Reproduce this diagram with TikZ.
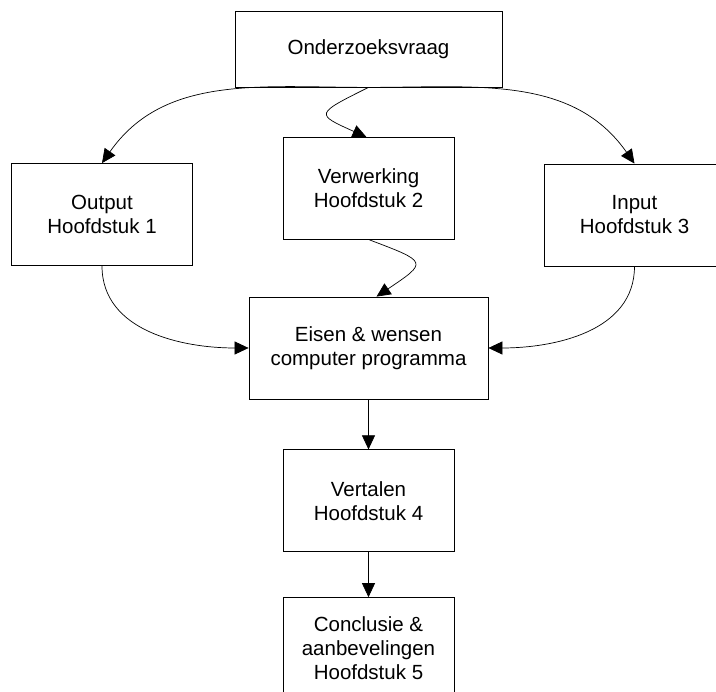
\documentclass[tikz,border=0pt]{standalone}
\usepackage{fontspec}
\setmainfont{Liberation Sans}
\usetikzlibrary{arrows.meta,positioning}

\tikzset{
    stap/.style={draw, line width=0.8pt, align=center, inner sep=0pt,
                 minimum width=171pt, minimum height=102pt,
                 font=\fontsize{20.5}{24}\selectfont},
    pijl/.style={-{Triangle[length=14pt,width=13pt]}, line width=0.7pt}
}

\begin{document}
\begin{tikzpicture}[x=1pt, y=-1pt]
    \clip (0,0) rectangle (716,692);
    % Vraag en deelgebieden ----------------------------------------------
    \node[stap, minimum width=267pt, minimum height=76pt] (vraag) at (368.5,49)
        {Onderzoeksvraag};
    \node[stap, minimum width=181pt] (output) at (102,214.5)
        {Output\\Hoofdstuk 1};
    \node[stap] (verwerking) at (368.5,188.5)
        {Verwerking\\Hoofdstuk 2};
    \node[stap, minimum width=181pt] (input) at (634.5,215)
        {Input\\Hoofdstuk 3};
    % Eisen en vervolg ---------------------------------------------------
    \node[stap, minimum width=239pt] (eisen) at (368.5,348)
        {Eisen \& wensen\\computer programma};
    \node[stap, below=50pt of eisen] (vertalen)
        {Vertalen\\Hoofdstuk 4};
    \node[stap, below=45pt of vertalen] (conclusie)
        {Conclusie \&\\aanbevelingen\\Hoofdstuk 5};

    \draw[pijl] (vraag.south) to[out=180, in=55] (output.north);
    \draw[pijl] (vraag.south) to[out=0, in=125] (input.north);
    \draw[pijl] (vraag.south) .. controls (315,114) .. ([xshift=-2pt]verwerking.north);
    \draw[pijl] ([xshift=1pt]verwerking.south) .. controls (428,262) .. ([xshift=8pt]eisen.north);
    \draw[pijl] (output.south) to[out=-90, in=180] (eisen.west);
    \draw[pijl] (input.south) to[out=-90, in=0] (eisen.east);
    \draw[pijl] (eisen) -- (vertalen);
    \draw[pijl] (vertalen) -- (conclusie);
\end{tikzpicture}
\end{document}
